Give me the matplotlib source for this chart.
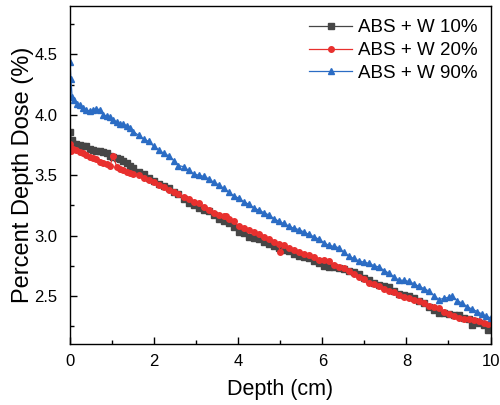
import matplotlib.pyplot as plt
from matplotlib.ticker import MultipleLocator

plt.rcParams['font.family'] = ['Liberation Sans', 'DejaVu Sans']

# depth (cm) and percent depth dose (%)
depth_w90 = [0.00, 0.02, 0.05, 0.10, 0.17, 0.23, 0.31, 0.39, 0.47, 0.55, 0.63, 0.71, 0.79, 0.87, 0.95,
             1.03, 1.11, 1.19, 1.27, 1.35, 1.43, 1.51, 1.63, 1.75, 1.87, 1.99, 2.11, 2.23, 2.35, 2.47,
             2.58, 2.70, 2.82, 2.94, 3.06, 3.18, 3.30, 3.42, 3.54, 3.66, 3.77, 3.89, 4.01, 4.13, 4.25,
             4.37, 4.49, 4.61, 4.73, 4.85, 4.96, 5.08, 5.20, 5.32, 5.44, 5.56, 5.68, 5.80, 5.92, 6.04,
             6.15, 6.27, 6.39, 6.51, 6.63, 6.75, 6.87, 6.99, 7.11, 7.23, 7.35, 7.47, 7.58, 7.70, 7.82,
             7.94, 8.06, 8.18, 8.30, 8.42, 8.54, 8.66, 8.77, 8.89, 9.01, 9.09, 9.21, 9.33, 9.45, 9.57,
             9.69, 9.80, 9.90, 10.00]
pdd_w90 = [4.44, 4.30, 4.15, 4.12, 4.09, 4.08, 4.06, 4.04, 4.03, 4.04, 4.05, 4.04, 4.00, 3.99, 3.98,
           3.96, 3.94, 3.92, 3.92, 3.91, 3.89, 3.86, 3.83, 3.80, 3.78, 3.74, 3.71, 3.68, 3.66, 3.62,
           3.58, 3.57, 3.54, 3.51, 3.50, 3.49, 3.47, 3.44, 3.42, 3.39, 3.36, 3.33, 3.31, 3.28, 3.26,
           3.23, 3.21, 3.19, 3.17, 3.14, 3.12, 3.10, 3.08, 3.06, 3.05, 3.03, 3.01, 2.99, 2.97, 2.94,
           2.92, 2.91, 2.90, 2.86, 2.83, 2.81, 2.79, 2.78, 2.77, 2.75, 2.74, 2.71, 2.69, 2.66, 2.63,
           2.63, 2.62, 2.60, 2.58, 2.56, 2.54, 2.50, 2.47, 2.48, 2.49, 2.50, 2.46, 2.44, 2.41, 2.39,
           2.37, 2.35, 2.33, 2.32]

depth_w10 = [0.00, 0.04, 0.08, 0.15, 0.23, 0.31, 0.39, 0.47, 0.55, 0.63, 0.71, 0.79, 0.87, 0.95,
             1.03, 1.11, 1.19, 1.27, 1.35, 1.43, 1.51, 1.63, 1.75, 1.87, 1.99, 2.11, 2.23, 2.35, 2.47,
             2.58, 2.70, 2.82, 2.94, 3.06, 3.18, 3.30, 3.42, 3.54, 3.66, 3.77, 3.89, 4.01, 4.13, 4.25,
             4.37, 4.49, 4.61, 4.73, 4.85, 4.96, 5.08, 5.20, 5.32, 5.44, 5.56, 5.68, 5.80, 5.92, 6.04,
             6.15, 6.27, 6.39, 6.51, 6.63, 6.75, 6.87, 6.99, 7.11, 7.23, 7.35, 7.47, 7.58, 7.70, 7.82,
             7.94, 8.06, 8.18, 8.30, 8.42, 8.54, 8.66, 8.77, 8.89, 9.01, 9.13, 9.25, 9.37, 9.49, 9.57,
             9.61, 9.73, 9.85, 9.95]
pdd_w10 = [3.86, 3.79, 3.76, 3.76, 3.75, 3.74, 3.74, 3.72, 3.71, 3.70, 3.70, 3.69, 3.68, 3.66,
           3.65, 3.64, 3.63, 3.62, 3.60, 3.58, 3.56, 3.53, 3.51, 3.48, 3.45, 3.43, 3.41, 3.39, 3.36,
           3.34, 3.30, 3.27, 3.25, 3.23, 3.21, 3.20, 3.17, 3.14, 3.12, 3.10, 3.07, 3.03, 3.02, 2.99,
           2.98, 2.97, 2.95, 2.93, 2.91, 2.90, 2.88, 2.87, 2.85, 2.83, 2.82, 2.81, 2.79, 2.77, 2.75,
           2.74, 2.74, 2.73, 2.72, 2.71, 2.70, 2.68, 2.65, 2.63, 2.61, 2.59, 2.58, 2.57, 2.54, 2.52,
           2.51, 2.50, 2.48, 2.46, 2.44, 2.41, 2.38, 2.36, 2.36, 2.35, 2.34, 2.34, 2.32, 2.31, 2.26,
           2.29, 2.28, 2.26, 2.22]

depth_w20 = [0.00, 0.02, 0.08, 0.15, 0.23, 0.31, 0.39, 0.47, 0.55, 0.63, 0.71, 0.79, 0.87, 0.95,
             1.03, 1.11, 1.19, 1.27, 1.35, 1.43, 1.51, 1.63, 1.75, 1.87, 1.99, 2.11, 2.23, 2.35, 2.47,
             2.58, 2.70, 2.82, 2.94, 3.06, 3.18, 3.30, 3.42, 3.54, 3.66, 3.70, 3.77, 3.89, 4.01, 4.13,
             4.25, 4.37, 4.49, 4.61, 4.73, 4.85, 4.96, 5.00, 5.08, 5.20, 5.32, 5.44, 5.56, 5.68, 5.80,
             5.92, 6.04, 6.15, 6.27, 6.39, 6.51, 6.63, 6.75, 6.87, 6.99, 7.11, 7.23, 7.35, 7.47, 7.58,
             7.70, 7.82, 7.94, 8.06, 8.18, 8.30, 8.42, 8.54, 8.66, 8.77, 8.89, 9.01, 9.13, 9.25, 9.37,
             9.49, 9.61, 9.73, 9.85, 9.95]
pdd_w20 = [3.76, 3.70, 3.72, 3.71, 3.69, 3.68, 3.67, 3.65, 3.64, 3.63, 3.61, 3.60, 3.59, 3.58,
           3.66, 3.57, 3.55, 3.54, 3.53, 3.52, 3.51, 3.50, 3.48, 3.46, 3.44, 3.42, 3.40, 3.38, 3.36,
           3.34, 3.32, 3.30, 3.28, 3.27, 3.24, 3.21, 3.19, 3.17, 3.16, 3.16, 3.14, 3.12, 3.08, 3.06,
           3.05, 3.03, 3.01, 2.99, 2.97, 2.95, 2.93, 2.86, 2.92, 2.90, 2.88, 2.86, 2.85, 2.84, 2.82,
           2.80, 2.80, 2.79, 2.76, 2.74, 2.73, 2.71, 2.68, 2.66, 2.64, 2.61, 2.60, 2.58, 2.56, 2.54,
           2.53, 2.51, 2.49, 2.48, 2.47, 2.46, 2.44, 2.42, 2.41, 2.40, 2.37, 2.35, 2.33, 2.32, 2.31,
           2.31, 2.30, 2.29, 2.28, 2.27]

labels = ['ABS + W 10%', 'ABS + W 20%', 'ABS + W 90%']
colors = ['#464646', '#e8302e', '#2b6cc4']
markers = ['s', 'o', '^']

fig = plt.figure(figsize=(5.0, 4.05), dpi=100)
ax = fig.add_axes([0.14, 0.15, 0.841, 0.835])

series = [(depth_w10, pdd_w10), (depth_w20, pdd_w20), (depth_w90, pdd_w90)]
for (d, p), lab, c, m in zip(series, labels, colors, markers):
    ax.plot(d, p, color=c, lw=0.9, marker=m, ms=4, mec=c, mfc=c, label=lab)

ax.set_xlim(0, 10)
ax.set_ylim(2.1, 4.9)
ax.xaxis.set_major_locator(MultipleLocator(2))
ax.xaxis.set_minor_locator(MultipleLocator(1))
ax.yaxis.set_major_locator(MultipleLocator(0.5))
ax.yaxis.set_minor_locator(MultipleLocator(0.25))
ax.tick_params(which='both', direction='in', labelsize=12, width=1)
ax.tick_params(which='major', length=5)
ax.tick_params(which='minor', length=3)
ax.tick_params(axis='x', which='both', pad=7)
ax.tick_params(axis='y', which='both', pad=9)
for s in ax.spines.values():
    s.set_linewidth(1)

ax.set_xlabel('Depth (cm)', fontsize=15.5, labelpad=7)
ax.set_ylabel('Percent Depth Dose (%)', fontsize=17, labelpad=0)

ax.legend(loc='upper right', frameon=False, fontsize=13.5, handlelength=2.3,
          handletextpad=0.3, labelspacing=0.3, borderaxespad=0.3)

fig.savefig('out.png', dpi=100)
